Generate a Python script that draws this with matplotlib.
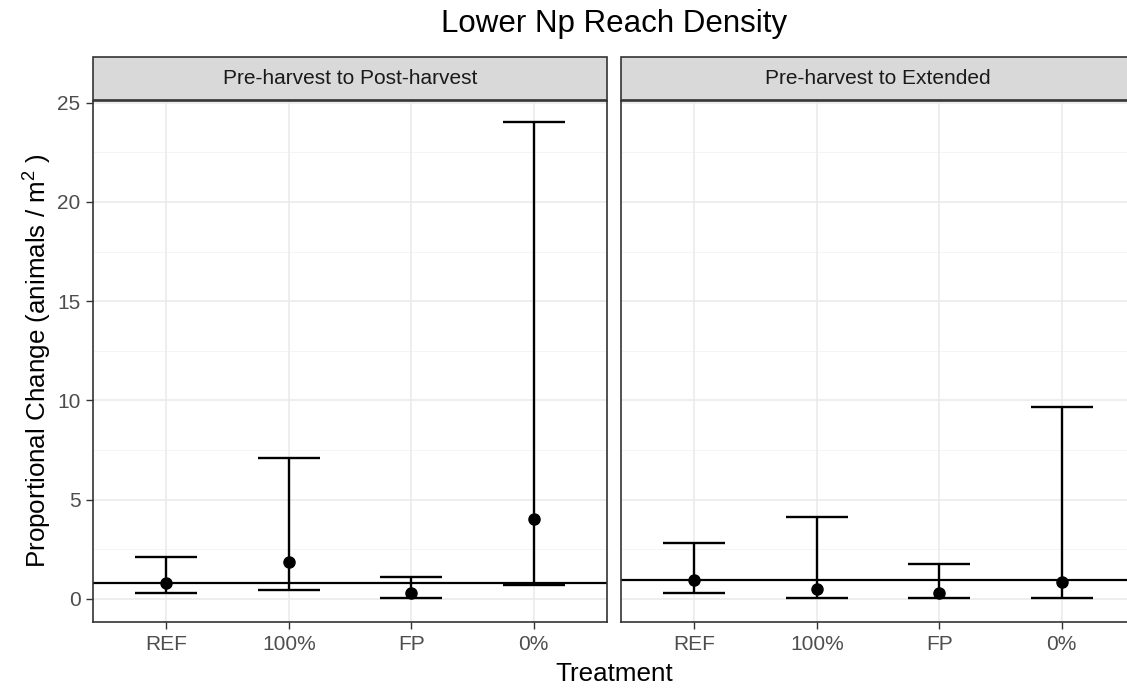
import matplotlib.pyplot as plt
from matplotlib.patches import Rectangle
import numpy as np

plt.rcParams['font.family'] = ['Liberation Sans', 'DejaVu Sans']
plt.rcParams['mathtext.fontset'] = 'custom'
plt.rcParams['mathtext.rm'] = 'Liberation Sans'
plt.rcParams['mathtext.default'] = 'regular'

# data
treatments = ['REF', '100%', 'FP', '0%']
panels = ['Pre-harvest to Post-harvest', 'Pre-harvest to Extended']

post_mid = [0.79, 1.84, 0.28, 4.03]
post_low = [0.28, 0.47, 0.04, 0.71]
post_high = [2.10, 7.12, 1.09, 24.0]
post_ref = 0.79

ext_mid = [0.94, 0.52, 0.32, 0.86]
ext_low = [0.30, 0.07, 0.04, 0.07]
ext_high = [2.83, 4.12, 1.78, 9.68]
ext_ref = 0.94

W, H = 1127, 690
fig = plt.figure(figsize=(W / 100, H / 100), dpi=100)

grey20 = '#333333'
grey30 = '#4D4D4D'

ylo, yhi = -1.16, 25.08
x = np.arange(1, 5)

def draw_panel(left, mid, low, high, ref, title, show_y):
    ax = fig.add_axes([left / W, 1 - 622 / H, 514 / W, 521 / H])
    ax.set_xlim(0.4, 4.6)
    ax.set_ylim(ylo, yhi)
    # grid
    for v in np.arange(2.5, 25, 5):
        ax.axhline(v, color='#F2F2F2', lw=0.6, zorder=0)
    for v in range(0, 26, 5):
        ax.axhline(v, color='#EBEBEB', lw=1.2, zorder=0)
    for v in x:
        ax.axvline(v, color='#EBEBEB', lw=1.2, zorder=0)
    ax.axhline(ref, color='black', lw=1.6, zorder=2)
    mid = np.array(mid); low = np.array(low); high = np.array(high)
    ax.errorbar(x, mid, yerr=[mid - low, high - mid], fmt='none',
                ecolor='black', elinewidth=1.7, capsize=22, capthick=1.7, zorder=3)
    ax.plot(x, mid, 'o', color='black', ms=8, zorder=4)
    ax.set_xticks(x)
    ax.set_xticklabels(treatments, fontsize=15, color=grey30)
    ax.set_yticks(range(0, 26, 5))
    ax.tick_params(axis='both', length=5, width=1, color=grey20, pad=4)
    if show_y:
        ax.tick_params(axis='y', labelsize=15, labelcolor=grey30)
    else:
        ax.tick_params(axis='y', left=False, labelleft=False)
    for s in ax.spines.values():
        s.set_color(grey20)
        s.set_linewidth(1.2)
    # strip
    fig.patches.append(Rectangle((left / W, 1 - 100 / H), 514 / W, 43 / H,
                                 transform=fig.transFigure, facecolor='#D9D9D9',
                                 edgecolor=grey20, lw=1.2))
    fig.text((left + 257) / W, 1 - 79 / H, title, ha='center', va='center',
             fontsize=15, color='#1A1A1A')
    return ax

draw_panel(93, post_mid, post_low, post_high, post_ref, panels[0], True)
draw_panel(621, ext_mid, ext_low, ext_high, ext_ref, panels[1], False)

fig.text(614 / W, 1 - 24 / H, 'Lower Np Reach Density', ha='center', va='center',
         fontsize=22.5)
fig.text(614 / W, 1 - 674 / H, 'Treatment', ha='center', va='center', fontsize=18.75)
fig.text(38 / W, 1 - 361 / H, 'Proportional Change (animals / m$^2$ )',
         ha='center', va='center', rotation=90, fontsize=18.75)

fig.savefig('out.png', dpi=100)
